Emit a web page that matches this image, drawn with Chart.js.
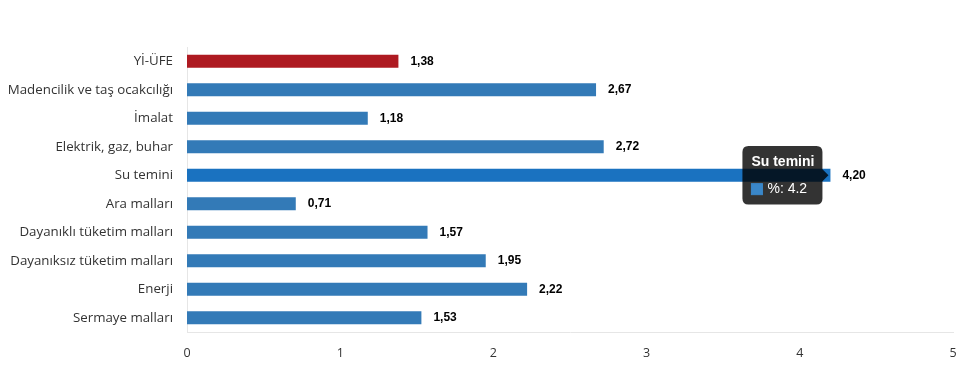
<!DOCTYPE html>
<html>
<head>
<meta charset="utf-8">
<script src="https://cdn.jsdelivr.net/npm/chart.js@4/dist/chart.umd.min.js"></script>
<style>
html,body{margin:0;padding:0;background:#fff;}
#wrap{width:960px;height:365px;position:relative;}
</style>
</head>
<body>
<div id="wrap"><canvas id="c" width="960" height="365"></canvas></div>
<script>
const categories = ["Yİ-ÜFE","Madencilik ve taş ocakcılığı","İmalat","Elektrik, gaz, buhar","Su temini","Ara malları","Dayanıklı tüketim malları","Dayanıksız tüketim malları","Enerji","Sermaye malları"];
const values = [1.38,2.67,1.18,2.72,4.20,0.71,1.57,1.95,2.22,1.53];
const xTicks = [0,1,2,3,4,5];
const seriesName = "%";
const activeIndex = 4;

const barColors = categories.map((c,i)=> i===0 ? "#ae1a21" : (i===activeIndex ? "#1a72c0" : "#337ab7"));

const valueLabels = {
  id:'valueLabels',
  afterDatasetsDraw(chart){
    const ctx = chart.ctx;
    const meta = chart.getDatasetMeta(0);
    ctx.save();
    ctx.font = "bold 12px 'Liberation Sans', Arial, sans-serif";
    ctx.fillStyle = "#000";
    ctx.textBaseline = "middle";
    ctx.textAlign = "left";
    meta.data.forEach((el,i)=>{
      ctx.fillText(values[i].toFixed(2).replace('.',','), el.x + 12, el.y);
    });
    ctx.restore();
  }
};

const chart = new Chart(document.getElementById('c'),{
  type:'bar',
  data:{
    labels:categories,
    datasets:[{label:seriesName,data:values,backgroundColor:barColors,hoverBackgroundColor:barColors,barPercentage:0.46,categoryPercentage:1.0,borderWidth:0}]
  },
  options:{
    indexAxis:'y',
    responsive:false,
    animation:false,
    layout:{padding:{top:47,right:0,left:0,bottom:0}},
    plugins:{
      legend:{display:false},
      tooltip:{
        enabled:true,
        backgroundColor:'rgba(0,0,0,0.8)',
        titleFont:{family:"'Liberation Sans', Arial, sans-serif",size:14,weight:'bold'},
        bodyFont:{family:"'Liberation Sans', Arial, sans-serif",size:14},
        padding:{top:8,bottom:7,left:9,right:8},
        titleMarginBottom:10,
        caretSize:6,
        cornerRadius:6,
        xAlign:'right',
        yAlign:'center',
        boxWidth:11,boxHeight:11,
        boxPadding:3,
        multiKeyBackground:'#3a87c9',
        callbacks:{
          label:(c)=> seriesName+": "+c.parsed.x,
          labelColor:()=>({borderColor:'#3a87c9',backgroundColor:'#3a87c9',borderWidth:0})
        }
      }
    },
    scales:{
      x:{
        min:0,max:5,
        afterBuildTicks:(s)=>{s.ticks = xTicks.map(v=>({value:v}));},
        afterFit:(s)=>{s.height = 33; s.paddingRight = 7; s.paddingLeft = 0;},
        grid:{display:false,drawTicks:false},
        border:{display:true,color:'#e6e6e6'},
        ticks:{color:'#333',font:{family:"'Open Sans', sans-serif",size:12.5},padding:14}
      },
      y:{
        afterFit:(s)=>{s.width = 187;},
        grid:{display:false,drawTicks:false},
        border:{display:true,color:'#e6e6e6'},
        ticks:{color:'#333',font:{family:"'Open Sans', sans-serif",size:13.3},padding:14}
      }
    }
  },
  plugins:[valueLabels]
});

const el = chart.getDatasetMeta(0).data[activeIndex];
chart.setActiveElements([{datasetIndex:0,index:activeIndex}]);
chart.tooltip.setActiveElements([{datasetIndex:0,index:activeIndex}],{x:el.x,y:el.y});
chart.update();
</script>
</body>
</html>
